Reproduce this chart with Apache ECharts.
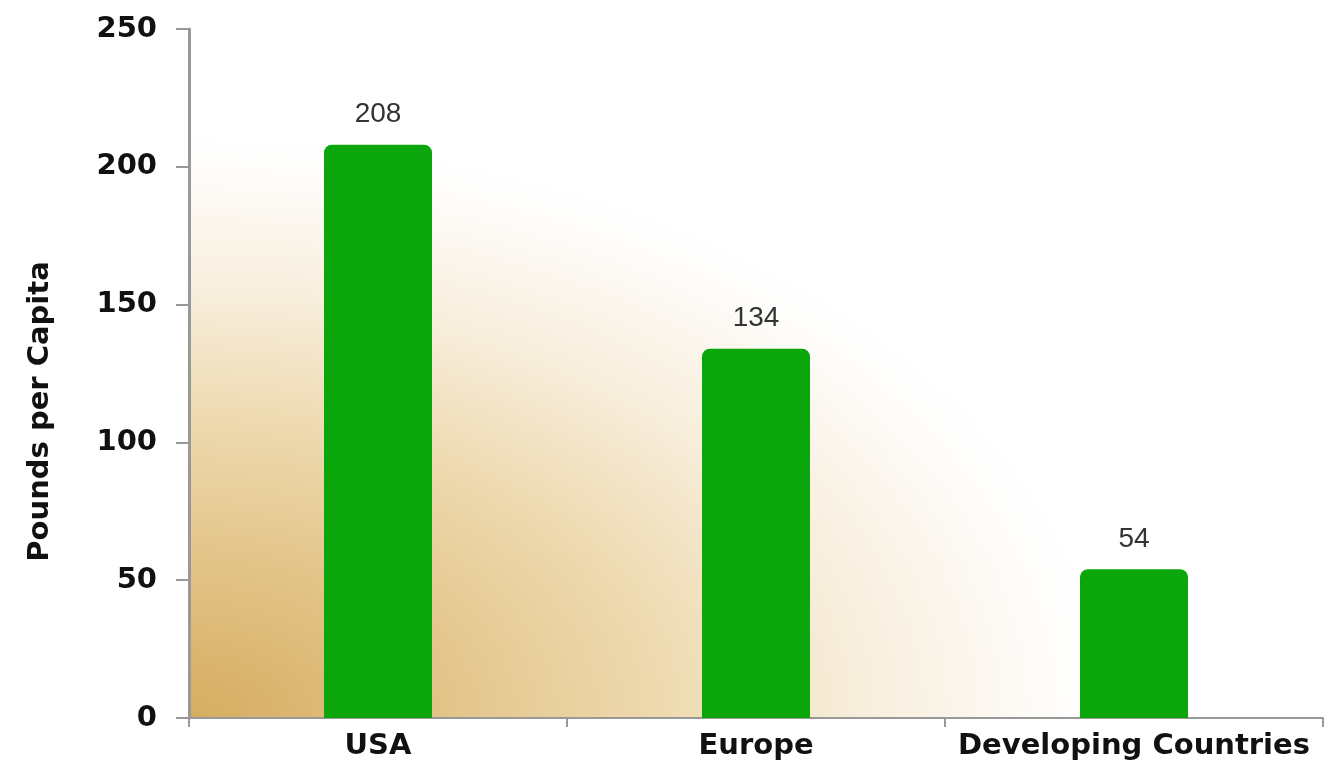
<!DOCTYPE html>
<html>
<head>
<meta charset="utf-8">
<script src="https://cdn.jsdelivr.net/npm/echarts@6/dist/echarts.min.js"></script>
<style>
html,body{margin:0;padding:0;background:#fff;}
#chart{width:1330px;height:766px;}
</style>
</head>
<body>
<div id="chart"></div>
<script>
const categories = ['USA', 'Europe', 'Developing Countries'];
const values = [208, 134, 54];
const yAxisName = 'Pounds per Capita';
const yMin = 0, yMax = 250, yInterval = 50;

const chart = echarts.init(document.getElementById('chart'));
const gL = 189, gR = 7, gT = 29, gB = 48;
const gW = 1330 - gL - gR, gH = 766 - gT - gB;
const radX = 950, radY = 600;
const scaleY = radY / radX;
const rectH = gH / scaleY;
const rRel = radX / Math.min(gW, rectH);

chart.setOption({
  animation: false,
  backgroundColor: '#fff',
  graphic: [{
    type: 'rect',
    z: -10,
    silent: true,
    x: gL, y: gT + gH,
    scaleY: scaleY,
    shape: { x: 0, y: -rectH, width: gW, height: rectH },
    style: {
      fill: {
        type: 'radial', x: 0, y: 1, r: rRel,
        colorStops: [
          { offset: 0, color: 'rgba(214,172,96,1)' },
          { offset: 0.25, color: 'rgba(226,195,134,1)' },
          { offset: 0.5, color: 'rgba(238,218,176,1)' },
          { offset: 0.7, color: 'rgba(247,237,218,1)' },
          { offset: 0.85, color: 'rgba(252,248,241,1)' },
          { offset: 1, color: 'rgba(255,255,255,0)' }
        ]
      }
    }
  }],
  grid: { left: gL, right: gR, top: gT, bottom: gB, containLabel: false },
  xAxis: {
    type: 'category',
    data: categories,
    boundaryGap: true,
    axisLine: { show: true, lineStyle: { color: '#999', width: 2 } },
    axisTick: { show: true, interval: 0, length: 9, lineStyle: { color: '#999', width: 2 } },
    axisLabel: {
      interval: 0,
      color: '#111', fontFamily: 'DejaVu Sans', fontWeight: 'bold', fontSize: 29, margin: 14
    },
    splitLine: { show: false }
  },
  yAxis: {
    type: 'value',
    min: yMin, max: yMax, interval: yInterval,
    name: yAxisName,
    nameLocation: 'middle',
    nameGap: 134,
    nameRotate: 90,
    nameTextStyle: {
      color: '#111', fontFamily: 'DejaVu Sans', fontWeight: 'bold', fontSize: 29,
      padding: [0, 76, 0, 0]
    },
    axisLine: { show: true, lineStyle: { color: '#999', width: 3 } },
    axisTick: { show: true, length: 13, lineStyle: { color: '#999', width: 2 } },
    axisLabel: {
      color: '#111', fontFamily: 'DejaVu Sans', fontWeight: 'bold', fontSize: 29, margin: 32
    },
    splitLine: { show: false }
  },
  series: [{
    type: 'bar',
    data: values,
    barWidth: 108,
    itemStyle: { color: '#0aa60c', borderRadius: [8, 8, 0, 0] },
    label: {
      show: true, position: 'top', distance: 16,
      color: '#333', fontFamily: 'Liberation Sans', fontSize: 28
    }
  }]
});
</script>
</body>
</html>
